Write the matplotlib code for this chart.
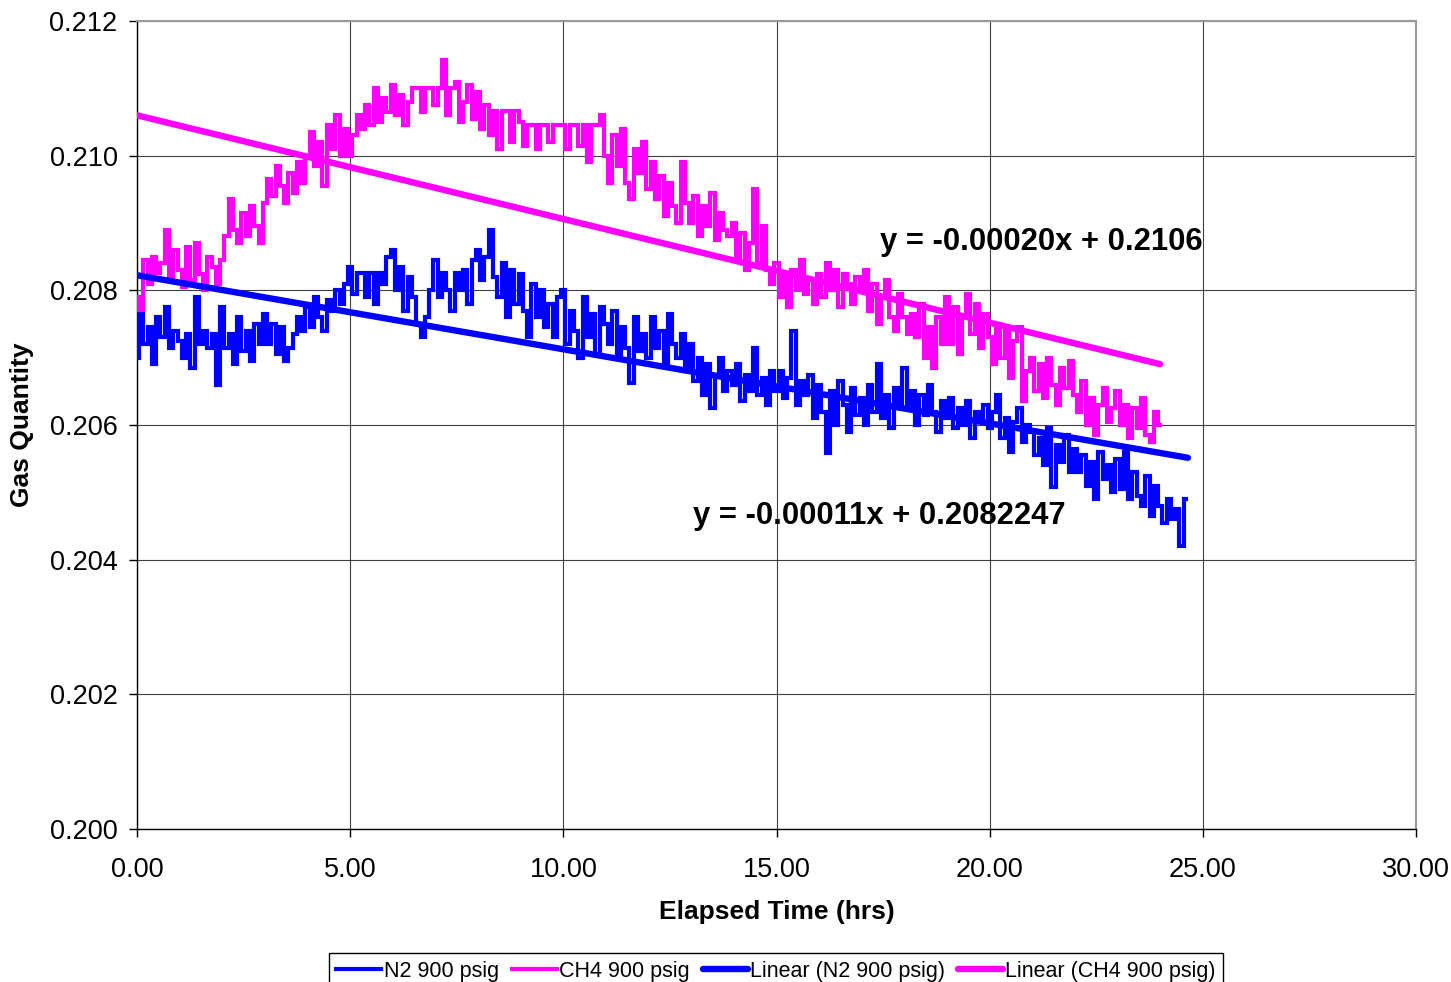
import numpy as np
import matplotlib
matplotlib.use("Agg")
import matplotlib.pyplot as plt
from matplotlib.ticker import MultipleLocator, FormatStrFormatter

plt.rcParams['font.family'] = ['Liberation Sans', 'DejaVu Sans']

# ---- data ----
n2_step = 0.1
n2_values = [
    0.20700, 0.20765, 0.20720, 0.20745, 0.20690, 0.20760, 0.20730, 0.20775, 0.20715, 0.20740,
    0.20725, 0.20700, 0.20735, 0.20685, 0.20790, 0.20720, 0.20740, 0.20715, 0.20735, 0.20660,
    0.20775, 0.20715, 0.20735, 0.20690, 0.20760, 0.20710, 0.20740, 0.20695, 0.20750, 0.20720,
    0.20765, 0.20720, 0.20750, 0.20705, 0.20745, 0.20695, 0.20715, 0.20735, 0.20760, 0.20740,
    0.20775, 0.20745, 0.20790, 0.20760, 0.20740, 0.20785, 0.20770, 0.20800, 0.20780, 0.20810,
    0.20835, 0.20795, 0.20826, 0.20826, 0.20790, 0.20826, 0.20780, 0.20826, 0.20810, 0.20850,
    0.20860, 0.20800, 0.20835, 0.20770, 0.20820, 0.20790, 0.20750, 0.20730, 0.20760, 0.20800,
    0.20845, 0.20790, 0.20826, 0.20800, 0.20770, 0.20826, 0.20800, 0.20830, 0.20780, 0.20845,
    0.20860, 0.20815, 0.20850, 0.20890, 0.20820, 0.20790, 0.20840, 0.20760, 0.20830, 0.20780,
    0.20825, 0.20770, 0.20730, 0.20810, 0.20760, 0.20800, 0.20745, 0.20780, 0.20730, 0.20790,
    0.20800, 0.20720, 0.20770, 0.20740, 0.20700, 0.20790, 0.20730, 0.20765, 0.20705, 0.20775,
    0.20750, 0.20720, 0.20770, 0.20700, 0.20745, 0.20715, 0.20663, 0.20760, 0.20710, 0.20735,
    0.20700, 0.20760, 0.20715, 0.20740, 0.20690, 0.20765, 0.20720, 0.20700, 0.20735, 0.20680,
    0.20720, 0.20665, 0.20700, 0.20645, 0.20690, 0.20625, 0.20675, 0.20700, 0.20650, 0.20680,
    0.20660, 0.20690, 0.20635, 0.20675, 0.20650, 0.20715, 0.20645, 0.20670, 0.20630, 0.20680,
    0.20650, 0.20680, 0.20640, 0.20670, 0.20740, 0.20630, 0.20665, 0.20645, 0.20675, 0.20610,
    0.20660, 0.20620, 0.20558, 0.20650, 0.20600, 0.20665, 0.20630, 0.20590, 0.20655, 0.20615,
    0.20640, 0.20600, 0.20660, 0.20620, 0.20690, 0.20610, 0.20645, 0.20595, 0.20655, 0.20625,
    0.20685, 0.20625, 0.20650, 0.20600, 0.20645, 0.20615, 0.20660, 0.20620, 0.20590, 0.20635,
    0.20610, 0.20640, 0.20595, 0.20625, 0.20600, 0.20635, 0.20580, 0.20620, 0.20605, 0.20630,
    0.20595, 0.20620, 0.20645, 0.20580, 0.20610, 0.20560, 0.20605, 0.20625, 0.20575, 0.20600,
    0.20590, 0.20555, 0.20580, 0.20540, 0.20595, 0.20508, 0.20570, 0.20545, 0.20585, 0.20530,
    0.20565, 0.20530, 0.20555, 0.20510, 0.20545, 0.20490, 0.20560, 0.20520, 0.20540, 0.20500,
    0.20550, 0.20505, 0.20560, 0.20490, 0.20530, 0.20495, 0.20480, 0.20525, 0.20465, 0.20510,
    0.20480, 0.20455, 0.20490, 0.20460, 0.20475, 0.20420, 0.20490,
]

ch4_step = 0.1
ch4_values = [
    0.20790, 0.20771, 0.20845, 0.20810, 0.20850, 0.20826, 0.20840, 0.20890, 0.20820, 0.20860,
    0.20830, 0.20805, 0.20865, 0.20815, 0.20870, 0.20825, 0.20800, 0.20850, 0.20835, 0.20810,
    0.20845, 0.20880, 0.20935, 0.20890, 0.20870, 0.20915, 0.20880, 0.20925, 0.20895, 0.20870,
    0.20930, 0.20965, 0.20940, 0.20985, 0.20955, 0.20930, 0.20975, 0.20945, 0.20990, 0.20960,
    0.21000, 0.21035, 0.20985, 0.21020, 0.20955, 0.21045, 0.21010, 0.21060, 0.21000, 0.21040,
    0.21000, 0.21030, 0.21060, 0.21040, 0.21075, 0.21045, 0.21100, 0.21050, 0.21085, 0.21065,
    0.21105, 0.21060, 0.21090, 0.21045, 0.21080, 0.21100, 0.21100, 0.21065, 0.21100, 0.21100,
    0.21075, 0.21100, 0.21142, 0.21060, 0.21100, 0.21110, 0.21050, 0.21080, 0.21105, 0.21055,
    0.21095, 0.21040, 0.21075, 0.21030, 0.21067, 0.21010, 0.21067, 0.21067, 0.21020, 0.21067,
    0.21050, 0.21015, 0.21046, 0.21046, 0.21010, 0.21046, 0.21046, 0.21020, 0.21046, 0.21046,
    0.21046, 0.21010, 0.21046, 0.21046, 0.21015, 0.21046, 0.20990, 0.21046, 0.21046, 0.21060,
    0.21000, 0.20960, 0.21030, 0.20985, 0.21040, 0.20960, 0.20935, 0.21010, 0.20975, 0.21020,
    0.20950, 0.20990, 0.20935, 0.20970, 0.20910, 0.20960, 0.20925, 0.20900, 0.20990, 0.20930,
    0.20900, 0.20940, 0.20880, 0.20925, 0.20895, 0.20945, 0.20875, 0.20915, 0.20890, 0.20880,
    0.20900, 0.20850, 0.20885, 0.20830, 0.20870, 0.20950, 0.20840, 0.20895, 0.20830, 0.20810,
    0.20840, 0.20790, 0.20820, 0.20775, 0.20830, 0.20800, 0.20845, 0.20795, 0.20815, 0.20780,
    0.20825, 0.20790, 0.20840, 0.20800, 0.20830, 0.20775, 0.20825, 0.20810, 0.20780, 0.20820,
    0.20800, 0.20830, 0.20770, 0.20810, 0.20750, 0.20790, 0.20815, 0.20760, 0.20740, 0.20795,
    0.20760, 0.20735, 0.20765, 0.20730, 0.20780, 0.20700, 0.20745, 0.20685, 0.20760, 0.20720,
    0.20790, 0.20720, 0.20775, 0.20705, 0.20760, 0.20795, 0.20735, 0.20780, 0.20715, 0.20765,
    0.20730, 0.20690, 0.20750, 0.20700, 0.20740, 0.20670, 0.20725, 0.20745, 0.20635, 0.20680,
    0.20700, 0.20650, 0.20690, 0.20640, 0.20700, 0.20660, 0.20630, 0.20685, 0.20655, 0.20695,
    0.20645, 0.20620, 0.20665, 0.20600, 0.20640, 0.20585, 0.20630, 0.20655, 0.20605, 0.20625,
    0.20650, 0.20600, 0.20630, 0.20580, 0.20625, 0.20595, 0.20640, 0.20585, 0.20575, 0.20620,
    0.20600,
]

# trend lines (as drawn on the chart)
n2_trend_slope = -0.00011
n2_trend_intercept = 0.2082247
n2_trend_range = [0.0, 24.65]
ch4_trend_slope = -0.000154
ch4_trend_intercept = 0.2106
ch4_trend_range = [0.0, 24.0]

n2_eq_text = "y = -0.00011x + 0.2082247"
ch4_eq_text = "y = -0.00020x + 0.2106"
n2_eq_pos = (13.05, 0.20465)
ch4_eq_pos = (17.42, 0.20872)

series_labels = ["N2 900 psig", "CH4 900 psig", "Linear (N2 900 psig)", "Linear (CH4 900 psig)"]
x_label = "Elapsed Time (hrs)"
y_label = "Gas Quantity"

n2_time = np.arange(len(n2_values)) * n2_step
ch4_time = np.arange(len(ch4_values)) * ch4_step

BLUE = "#0000FF"
MAGENTA = "#FF00FF"

W, H = 1451, 982
fig = plt.figure(figsize=(W / 100, H / 100), dpi=100)
ax = fig.add_axes([137 / W, 1 - 829 / H, (1416 - 137) / W, (829 - 21) / H])

l1, = ax.plot(n2_time, n2_values, color=BLUE, lw=3.0, drawstyle='steps-mid',
              solid_joinstyle='miter', zorder=3)
l2, = ax.plot(ch4_time, ch4_values, color=MAGENTA, lw=3.0, drawstyle='steps-mid',
              solid_joinstyle='miter', zorder=3)

tx = np.array(n2_trend_range)
l3, = ax.plot(tx, n2_trend_intercept + n2_trend_slope * tx, color=BLUE, lw=4.6,
              solid_capstyle='round', zorder=4)
tx2 = np.array(ch4_trend_range)
l4, = ax.plot(tx2, ch4_trend_intercept + ch4_trend_slope * tx2, color=MAGENTA, lw=4.6,
              solid_capstyle='round', zorder=4)

ax.text(ch4_eq_pos[0], ch4_eq_pos[1], ch4_eq_text, fontsize=22.3, fontweight='bold',
        ha='left', va='center', color='black', zorder=6)
ax.text(n2_eq_pos[0], n2_eq_pos[1], n2_eq_text, fontsize=22.3, fontweight='bold',
        ha='left', va='center', color='black', zorder=6)

ax.set_xlim(0, 30)
ax.set_ylim(0.200, 0.212)
ax.xaxis.set_major_locator(MultipleLocator(5))
ax.yaxis.set_major_locator(MultipleLocator(0.002))
ax.xaxis.set_major_formatter(FormatStrFormatter('%.2f'))
ax.yaxis.set_major_formatter(FormatStrFormatter('%.3f'))
ax.tick_params(axis='both', direction='out', length=6, width=1.0, labelsize=19.5,
               colors='black')
ax.tick_params(axis='x', pad=14)
ax.tick_params(axis='y', pad=8)
ax.grid(True, color='#404040', lw=0.8, zorder=1)
ax.set_axisbelow(True)

for s in ['left', 'bottom']:
    ax.spines[s].set_color('black')
    ax.spines[s].set_linewidth(1.0)
for s in ['right', 'top']:
    ax.spines[s].set_color('#999999')
    ax.spines[s].set_linewidth(1.5)

fig.text(22 / W, 1 - 425 / H, y_label, rotation=90, ha='center', va='center',
         fontsize=19, fontweight='bold')
fig.text(777 / W, 1 - 912 / H, x_label, ha='center', va='center',
         fontsize=19, fontweight='bold')

leg = fig.legend([l1, l2, l3, l4], series_labels, loc='upper center',
                 bbox_to_anchor=(776 / W, 1 - 953 / H), ncol=4, fontsize=15.5,
                 frameon=True, fancybox=False, edgecolor='black', framealpha=1,
                 handlelength=2.1, handletextpad=0.1, columnspacing=0.6,
                 borderpad=0.35, borderaxespad=0)
leg.get_frame().set_linewidth(1.0)

fig.savefig("out.png", dpi=100)
